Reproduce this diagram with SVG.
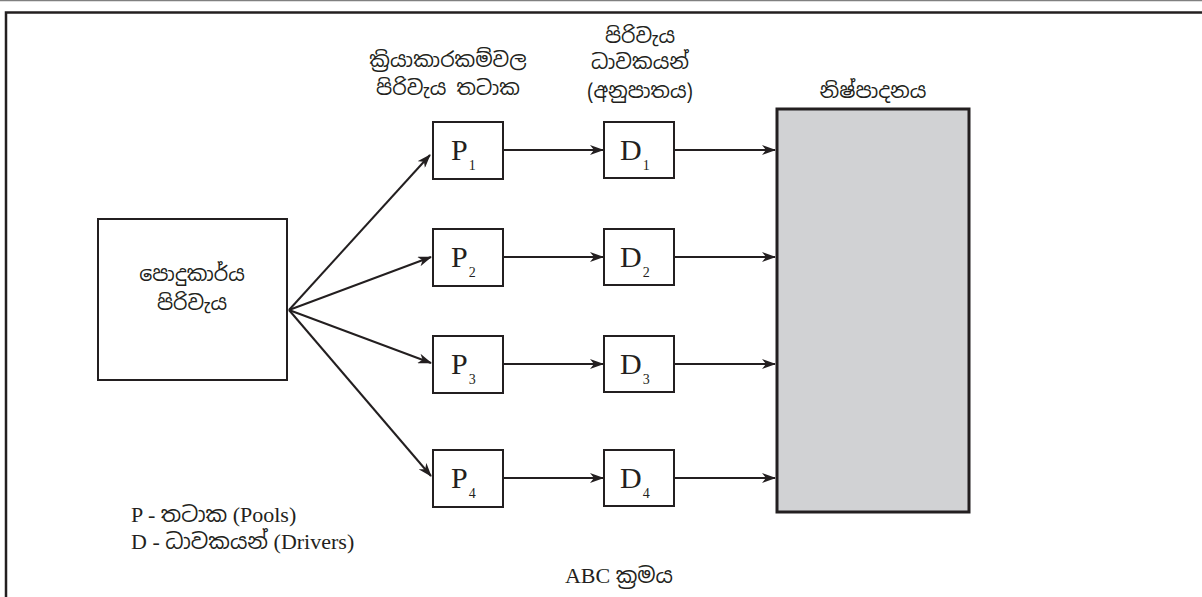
<svg xmlns="http://www.w3.org/2000/svg" width="1202" height="597" viewBox="0 0 1202 597">
<style>
.box{fill:#fff;stroke:#231f20;stroke-width:2}
.gray{fill:#d1d2d4;stroke:#231f20;stroke-width:3}
.ln{stroke:#231f20;stroke-width:2;fill:none}
.si{font-family:"Noto Sans Sinhala","Iskoola Pota","Noto Sans","DejaVu Sans",sans-serif;font-size:20.5px;fill:#231f20}
.lt{font-family:"Liberation Serif","Times New Roman",serif;fill:#231f20}
.big{font-size:30px}
.sub{font-size:14px}
.leg{font-size:22px}
.sl{font-size:21.5px}
</style>
<defs>
<marker id="ah" markerWidth="14" markerHeight="10" refX="13" refY="5" orient="auto" markerUnits="userSpaceOnUse">
<path d="M0,0 L14,5 L0,10 L4,5 Z" fill="#231f20"/>
</marker>
</defs>
<rect x="0" y="0" width="1202" height="597" fill="#fff"/>
<line x1="0" y1="0.5" x2="1202" y2="0.5" stroke="#808080" stroke-width="1.5"/>
<path d="M6,597 V12.5 H1202" fill="none" stroke="#231f20" stroke-width="2.5"/>

<g id="connectors">
<line class="ln" x1="289" y1="310" x2="430" y2="155" marker-end="url(#ah)"/>
<line class="ln" x1="289" y1="310" x2="431" y2="257" marker-end="url(#ah)"/>
<line class="ln" x1="289" y1="310" x2="431" y2="363" marker-end="url(#ah)"/>
<line class="ln" x1="289" y1="310" x2="431" y2="476" marker-end="url(#ah)"/>
<line class="ln" x1="503" y1="150" x2="603" y2="150" marker-end="url(#ah)"/>
<line class="ln" x1="503" y1="257" x2="603" y2="257" marker-end="url(#ah)"/>
<line class="ln" x1="503" y1="364" x2="603" y2="364" marker-end="url(#ah)"/>
<line class="ln" x1="503" y1="478" x2="603" y2="478" marker-end="url(#ah)"/>
<line class="ln" x1="675" y1="150" x2="775" y2="150" marker-end="url(#ah)"/>
<line class="ln" x1="675" y1="257" x2="775" y2="257" marker-end="url(#ah)"/>
<line class="ln" x1="675" y1="364" x2="775" y2="364" marker-end="url(#ah)"/>
<line class="ln" x1="675" y1="478" x2="775" y2="478" marker-end="url(#ah)"/>
</g>

<g id="overhead">
<rect class="box" x="98" y="219" width="189" height="161"/>
<text class="si" x="192" y="281" text-anchor="middle">පොදුකාර්ය</text>
<text class="si" x="192" y="310" text-anchor="middle">පිරිවැය</text>
</g>

<g id="P1"><rect class="box" x="433" y="122" width="70" height="57"/><text class="lt big" x="451" y="160">P<tspan class="sub" dx="1" dy="10">1</tspan></text></g>
<g id="P2"><rect class="box" x="433" y="229" width="70" height="57"/><text class="lt big" x="451" y="267">P<tspan class="sub" dx="1" dy="10">2</tspan></text></g>
<g id="P3"><rect class="box" x="433" y="336" width="70" height="57"/><text class="lt big" x="451" y="374">P<tspan class="sub" dx="1" dy="10">3</tspan></text></g>
<g id="P4"><rect class="box" x="433" y="450" width="70" height="57"/><text class="lt big" x="451" y="488">P<tspan class="sub" dx="1" dy="10">4</tspan></text></g>

<g id="D1"><rect class="box" x="604" y="122" width="70" height="56"/><text class="lt big" x="620" y="160">D<tspan class="sub" dx="1" dy="10">1</tspan></text></g>
<g id="D2"><rect class="box" x="604" y="229" width="70" height="56"/><text class="lt big" x="620" y="267">D<tspan class="sub" dx="1" dy="10">2</tspan></text></g>
<g id="D3"><rect class="box" x="604" y="336" width="70" height="56"/><text class="lt big" x="620" y="374">D<tspan class="sub" dx="1" dy="10">3</tspan></text></g>
<g id="D4"><rect class="box" x="604" y="450" width="70" height="56"/><text class="lt big" x="620" y="488">D<tspan class="sub" dx="1" dy="10">4</tspan></text></g>

<g id="products">
<rect class="gray" x="777" y="109" width="192" height="403"/>
<text class="si" x="873" y="98" text-anchor="middle">නිෂ්පාදනය</text>
</g>

<g id="labels">
<text class="si" x="448" y="67" text-anchor="middle">ක්‍රියාකාරකම්වල</text>
<text class="si" x="448" y="95" text-anchor="middle">පිරිවැය  තටාක</text>
<text class="si" x="640" y="43" text-anchor="middle">පිරිවැය</text>
<text class="si" x="640" y="69" text-anchor="middle">ධාවකයන්</text>
<text class="si" x="640" y="98" text-anchor="middle">(අනුපාතය)</text>
</g>

<g id="legend">
<text class="lt leg" x="131" y="522">P - <tspan class="si sl">තටාක</tspan> (Pools)</text>
<text class="lt leg" x="131" y="549">D - <tspan class="si sl">ධාවකයන්</tspan> (Drivers)</text>
<text class="lt leg" x="619" y="583" text-anchor="middle">ABC <tspan class="si sl">ක්‍රමය</tspan></text>
</g>
</svg>
